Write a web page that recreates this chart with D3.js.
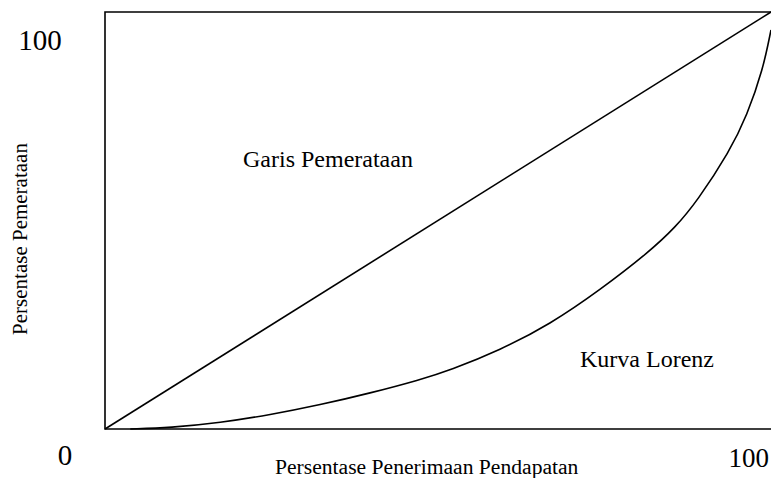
<!DOCTYPE html>
<html>
<head>
<meta charset="utf-8">
<script src="https://cdn.jsdelivr.net/npm/d3@7"></script>
<style>
  body { margin: 0; background: #fff; }
  svg { display: block; }
  text { font-family: "Liberation Serif", "Times New Roman", serif; fill: #000; }
</style>
</head>
<body>
<div id="chart"></div>
<script>
// kurva Lorenz (persen penerimaan, persen pemerataan)
const lorenzX = [3.8, 9.8, 17.3, 24.8, 32.3, 39.8, 47.3, 51.8, 59.3, 66.8, 74.3, 81.8, 85.6, 88.9, 93.8, 96.4, 98.8, 100];
const lorenzY = [0, 0.3, 1.5, 3.4, 5.8, 8.6, 11.8, 14.1, 18.9, 25.1, 33.3, 42.6, 48.3, 54.6, 66.6, 75.2, 86.2, 95.7];
// garis pemerataan
const equalX = [0, 100];
const equalY = [0, 100];
const tickLabels = ["0", "100"];

var width = 771, height = 478;
var margin = {top: 12, right: 0, bottom: 49, left: 105};

var svg = d3.select("#chart").append("svg")
  .attr("width", width)
  .attr("height", height);

var x = d3.scaleLinear().domain([0, 100]).range([margin.left, width]);
var y = d3.scaleLinear().domain([0, 100]).range([height - margin.bottom, margin.top]);

// kotak: kiri, atas, bawah
svg.append("path")
  .attr("d", `M${x(100)},${y(100)} L${x(0)},${y(100)} L${x(0)},${y(0)} L${x(100)},${y(0)}`)
  .attr("fill", "none")
  .attr("stroke", "#000")
  .attr("stroke-width", 1.6);

var line = d3.line()
  .x(d => x(d[0]))
  .y(d => y(d[1]));

svg.append("path")
  .datum(d3.zip(equalX, equalY))
  .attr("d", line)
  .attr("fill", "none")
  .attr("stroke", "#000")
  .attr("stroke-width", 1.6);

svg.append("path")
  .datum(d3.zip(lorenzX, lorenzY))
  .attr("d", line.curve(d3.curveBasis))
  .attr("fill", "none")
  .attr("stroke", "#000")
  .attr("stroke-width", 1.6);

// label angka
svg.append("text")
  .attr("x", x(0) - 65).attr("y", y(100) + 38)
  .attr("text-anchor", "middle")
  .style("font-size", "29px")
  .text(tickLabels[1]);
svg.append("text")
  .attr("x", x(0) - 40).attr("y", y(0) + 36)
  .attr("text-anchor", "middle")
  .style("font-size", "29px")
  .text(tickLabels[0]);
svg.append("text")
  .attr("x", x(100) - 2).attr("y", y(0) + 38)
  .attr("text-anchor", "end")
  .style("font-size", "27px")
  .text(tickLabels[1]);

// judul sumbu
svg.append("text")
  .attr("x", 275).attr("y", 474)
  .style("font-size", "21.6px")
  .text("Persentase Penerimaan Pendapatan");
svg.append("text")
  .attr("transform", "translate(27,239) rotate(-90)")
  .attr("text-anchor", "middle")
  .style("font-size", "21px")
  .text("Persentase Pemerataan");

// keterangan garis
svg.append("text")
  .attr("x", 243).attr("y", 167)
  .style("font-size", "24px")
  .text("Garis Pemerataan");
svg.append("text")
  .attr("x", 580).attr("y", 367)
  .style("font-size", "24px")
  .text("Kurva Lorenz");
</script>
</body>
</html>
